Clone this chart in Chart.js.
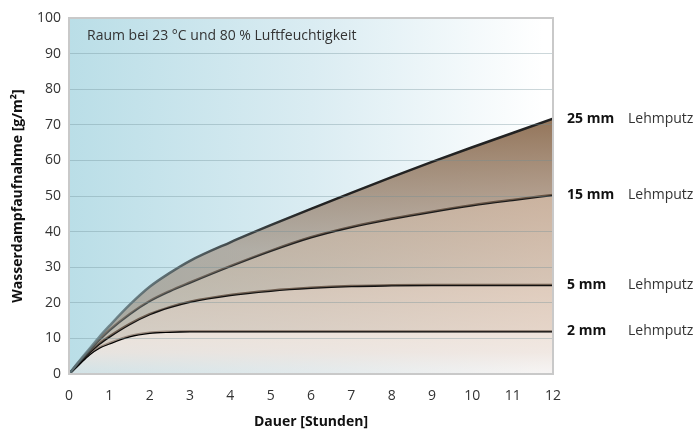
<!DOCTYPE html>
<html>
<head>
<meta charset="utf-8">
<script src="https://cdn.jsdelivr.net/npm/chart.js@4/dist/chart.umd.min.js"></script>
<style>
  html, body { margin: 0; padding: 0; background: #fff; }
  #wrap { width: 697px; height: 430px; }
</style>
</head>
<body>
<div id="wrap"><canvas id="myLineChart"></canvas></div>
<script>
// Dauer in Stunden
const hours = [0, 0.25, 0.5, 0.75, 1, 1.5, 2, 2.5, 3, 4, 5, 6, 7, 8, 9, 10, 11, 12];
// Wasserdampfaufnahme [g/m²] je Lehmputzdicke
const mm25 = [0, 3.6, 7, 10.4, 13.5, 19.4, 24.5, 28.4, 31.8, 37, 41.8, 46.4, 50.9, 55.3, 59.6, 63.7, 67.7, 71.7];
const mm15 = [0, 3.4, 6.6, 9.6, 12.3, 16.8, 20.5, 23.3, 25.7, 30.3, 34.6, 38.4, 41.3, 43.6, 45.6, 47.4, 48.9, 50.3];
const mm5  = [0, 3.1, 6, 8.5, 10.5, 14, 16.8, 18.8, 20.3, 22.2, 23.4, 24.2, 24.7, 24.9, 25, 25, 25, 25];
const mm2  = [0, 2.8, 5.5, 7.4, 8.6, 10.6, 11.6, 11.9, 12, 12, 12, 12, 12, 12, 12, 12, 12, 12];
const seriesLabels = ['25 mm', '15 mm', '5 mm', '2 mm'];
const xTicks = [0, 1, 2, 3, 4, 5, 6, 7, 8, 9, 10, 11, 12];
const yTicks = [0, 10, 20, 30, 40, 50, 60, 70, 80, 90, 100];

const FONT = "'Open Sans', 'Noto Sans', sans-serif";
const ctx = document.getElementById('myLineChart').getContext('2d');

function pts(arr) {
    return hours.map((h, i) => ({ x: h, y: arr[i] }));
}

// vertikaler Verlauf fuer die Flaechen
function vGrad(stops) {
    return function (c) {
        const area = c.chart.chartArea;
        if (!area) return stops[0][1];
        const y = c.chart.scales.y;
        const g = c.chart.ctx.createLinearGradient(0, y.getPixelForValue(stops[0][0]), 0, y.getPixelForValue(stops[stops.length - 1][0]));
        stops.forEach((s, i) => g.addColorStop(i / (stops.length - 1), s[1]));
        return g;
    };
}

// horizontaler Verlauf fuer die Linien
function hGrad(left, right) {
    return function (c) {
        const area = c.chart.chartArea;
        if (!area) return right;
        const g = c.chart.ctx.createLinearGradient(area.left, 0, area.right, 0);
        g.addColorStop(0, left);
        g.addColorStop(0.5, right);
        g.addColorStop(1, right);
        return g;
    };
}

const bgPlugin = {
    id: 'bg',
    beforeDraw(chart) {
        const { ctx, chartArea: a } = chart;
        const g = ctx.createLinearGradient(a.left, 0, a.right, 0);
        g.addColorStop(0, 'rgb(186,222,231)');
        g.addColorStop(0.5, 'rgb(218,236,242)');
        g.addColorStop(0.98, 'rgb(255,255,255)');
        ctx.save();
        ctx.fillStyle = g;
        ctx.fillRect(a.left, a.top, a.right - a.left, a.bottom - a.top);
        ctx.restore();
    },
    afterDraw(chart) {
        const { ctx, chartArea: a, scales } = chart;
        ctx.save();
        ctx.strokeStyle = '#c9c9c9';
        ctx.lineWidth = 2;
        ctx.strokeRect(a.left, a.top, a.right - a.left, a.bottom - a.top);

        // Hinweistext
        ctx.fillStyle = '#333';
        ctx.font = '14px ' + FONT;
        ctx.textBaseline = 'middle';
        ctx.fillText('Raum bei 23 °C und 80 % Luftfeuchtigkeit', a.left + 18, a.top + 18);

        // Beschriftung rechts an den Kurvenenden
        const ends = [mm25, mm15, mm5, mm2];
        ends.forEach((arr, i) => {
            const y = scales.y.getPixelForValue(arr[arr.length - 1]);
            ctx.font = 'bold 14px ' + FONT;
            ctx.fillStyle = '#111';
            ctx.fillText(seriesLabels[i], a.right + 14, y);
            ctx.font = '14px ' + FONT;
            ctx.fillStyle = '#333';
            ctx.fillText('Lehmputz', a.right + 75, y);
        });
        ctx.restore();
    }
};

const data = {
    datasets: [
        {
            label: seriesLabels[0],
            data: pts(mm25),
            fill: '+1',
            borderColor: hGrad('rgba(100,125,132,0.75)', '#222'),
            borderWidth: 2.5,
            backgroundColor: vGrad([[72, 'rgba(128,92,60,0.85)'], [35, 'rgba(150,125,105,0.55)']])
        },
        {
            label: seriesLabels[1],
            data: pts(mm15),
            fill: '+1',
            borderColor: hGrad('rgba(60,70,72,0.8)', '#1a1a1a'),
            borderWidth: 2.5,
            backgroundColor: vGrad([[50, 'rgba(175,138,108,0.65)'], [20, 'rgba(185,155,130,0.55)']])
        },
        {
            label: seriesLabels[2],
            data: pts(mm5),
            fill: '+1',
            borderColor: '#111',
            borderWidth: 2.5,
            backgroundColor: vGrad([[25, 'rgba(212,186,166,0.75)'], [12, 'rgba(218,195,178,0.7)']])
        },
        {
            label: seriesLabels[3],
            data: pts(mm2),
            fill: 'origin',
            borderColor: '#000',
            borderWidth: 2.5,
            backgroundColor: vGrad([[12, 'rgba(238,226,217,0.95)'], [3, 'rgba(238,228,222,0.85)'], [0, 'rgba(236,232,230,0.45)']])
        }
    ]
};

const config = {
    type: 'line',
    data: data,
    options: {
        responsive: true,
        maintainAspectRatio: false,
        animation: false,
        layout: { padding: { top: 18, right: 144, left: 0, bottom: 0 } },
        elements: {
            point: { radius: 0 },
            line: { cubicInterpolationMode: 'monotone' }
        },
        plugins: {
            legend: { display: false },
            tooltip: { enabled: false }
        },
        scales: {
            x: {
                type: 'linear',
                min: 0,
                max: 12,
                afterBuildTicks: s => { s.ticks = xTicks.map(v => ({ value: v })); },
                afterFit: s => { s.height = 56; },
                grid: { display: false },
                border: { display: false },
                ticks: { color: '#333', font: { family: FONT, size: 14 }, padding: 6 },
                title: { display: true, text: 'Dauer [Stunden]', color: '#111', font: { family: FONT, size: 14, weight: 'bold' }, padding: { top: 4, bottom: 0 } }
            },
            y: {
                min: 0,
                max: 100,
                afterBuildTicks: s => { s.ticks = yTicks.map(v => ({ value: v })); },
                afterFit: s => { s.width = 69; },
                grid: { color: 'rgba(110,140,150,0.35)', drawTicks: false, z: 1 },
                border: { display: false },
                ticks: { color: '#333', font: { family: FONT, size: 14 }, padding: 8 },
                title: { display: true, text: 'Wasserdampfaufnahme [g/m²]', color: '#111', font: { family: FONT, size: 14, weight: 'bold' }, padding: { top: 10, bottom: 0 } }
            }
        }
    },
    plugins: [bgPlugin]
};

const myLineChart = new Chart(ctx, config);
</script>
</body>
</html>
